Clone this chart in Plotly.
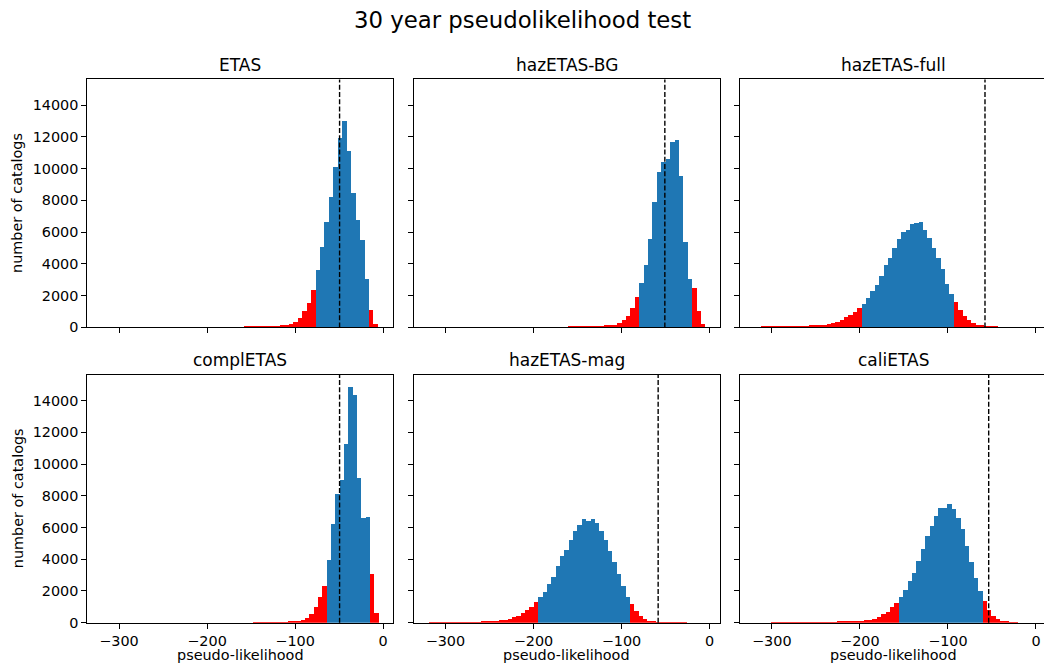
import plotly.graph_objects as go

# ---------------- data ----------------
models = ["ETAS", "hazETAS-BG", "hazETAS-full", "complETAS", "hazETAS-mag", "caliETAS"]

# left edge of first histogram bin, and bin width (pseudo-likelihood units)
first_edge = [-157.2, -160.6, -312.4, -147.5, -319.0, -300.6]
bin_width = [5.05, 5.02, 4.98, 4.92, 4.96, 5.00]

# 2.5% / 97.5% quantiles of the simulated distribution (red tails outside)
q_low = [-76.4, -80.3, -197.9, -63.9, -195.0, -155.6]
q_high = [-15.8, -20.1, -93.3, -14.7, -90.8, -60.6]

# observed pseudo-likelihood (dashed line)
observed = [-49.5, -50.8, -57.9, -49.5, -58.4, -53.7]

etas_counts = [30, 32, 35, 38, 40, 42, 45, 50, 63, 126, 210, 316, 589, 1010, 1516, 2316,
               3579, 5052, 6589, 8188, 10083, 11914, 12988, 11093, 8441, 6757, 5473, 3010,
               1074, 210]
hazbg_counts = [30, 32, 35, 38, 40, 42, 45, 50, 63, 105, 147, 274, 421, 716, 1221, 1873,
                2758, 3894, 5536, 7873, 9788, 10399, 10588, 11662, 11788, 9515, 5347, 3010,
                2463, 1031, 210]
hazfull_counts = [30, 32, 34, 36, 38, 40, 42, 45, 48, 52, 58, 65, 75, 105, 147, 189, 253, 337,
                  463, 610, 779, 968, 1221,
                  1474, 1852, 2252, 2673, 3200, 3873, 4336, 4968, 5536, 5957, 6105, 6483,
                  6568, 6610, 6105, 5599, 4968, 4336, 3642, 2694, 2084,
                  1558, 1053, 695, 421, 253, 147, 84, 50, 40, 32]
compl_counts = [30, 32, 35, 38, 40, 42, 45, 50, 60, 80, 116, 179, 326, 558, 1000, 1652, 2347,
                3968, 6262, 8094, 9020, 11251, 14851, 14346, 9104, 6599, 6683,
                3084, 642]
hazmag_counts = [30, 32, 34, 36, 38, 40, 42, 44, 46, 48, 52, 56, 62,
                 74, 95, 116, 158, 200, 263, 368, 453, 642, 810, 1021, 1337,
                 1652, 1968, 2452, 2915, 3610, 4221, 4599, 5252, 5820, 6199, 6578, 6410,
                 6578, 6326, 5820, 5252, 4536, 3842, 3105, 2347, 1652,
                 1210, 768, 453, 242, 137, 74, 55, 45, 40, 36, 33, 31, 30]
cali_counts = [30, 32, 33, 34, 35, 36, 37, 38, 39, 40, 42, 44, 46, 50, 55, 60, 66, 72, 80, 95,
               116, 158, 200, 263, 368, 558, 705, 979, 1274,
               1652, 2094, 2663, 3168, 3926, 4684, 5505, 6136, 6768, 7252, 7252, 7525, 7189,
               6641, 5905, 4873, 3863, 2852, 2031,
               1379, 831, 453, 263, 116, 60, 40, 30]
all_counts = [etas_counts, hazbg_counts, hazfull_counts, compl_counts, hazmag_counts, cali_counts]

x_ticks = [-300, -200, -100, 0]
x_ticktext = ["\u2212300", "\u2212200", "\u2212100", "0"]
y_ticks = [0, 2000, 4000, 6000, 8000, 10000, 12000, 14000]
y_ticktext = ["0", "2000", "4000", "6000", "8000", "10000", "12000", "14000"]

# ---------------- layout geometry ----------------
W, H = 1044, 670
VS = 0.986  # vertical scale applied to the rendered page


def fy(y_px):
    """target pixel row (from top) -> paper fraction"""
    return 1 - (y_px / VS) / H


col_px = [(87.3, 393.3), (413.7, 719.7), (740.1, 1044.0)]
row_px = [(79.3, 326.7), (374.0, 621.4)]
px_per_unit = 306.0 / 347.5
x_left = -336.0
y_max = 15623

BLUE = "#1f77b4"
RED = "#ff0000"
FONT = "DejaVu Sans"

fig = go.Figure()
annotations = []
shapes = []

for k, name in enumerate(models):
    r, c = divmod(k, 3)
    ax = "" if k == 0 else str(k + 1)
    xa, ya = "x" + ax, "y" + ax
    counts = all_counts[k]
    w = bin_width[k]
    centers = [first_edge[k] + w * (i + 0.5) for i in range(len(counts))]
    colors = [RED if (cx < q_low[k] or cx > q_high[k]) else BLUE for cx in centers]
    fig.add_trace(go.Bar(x=centers, y=counts, width=w, marker=dict(color=colors, line=dict(width=0)),
                         xaxis=xa, yaxis=ya, showlegend=False, hoverinfo="x+y"))

    x0p, x1p = col_px[c]
    y0p, y1p = row_px[r]
    xr = [x_left, x_left + (x1p - x0p) / px_per_unit]
    xdom = [x0p / W, min(x1p / W, 1.0)]
    ydom = [fy(y1p), fy(y0p)]
    axis_common = dict(showgrid=False, zeroline=False, ticks="outside", ticklen=5, tickwidth=1,
                       tickcolor="black", showline=True, linecolor="black", linewidth=1,
                       tickfont=dict(family=FONT, size=14.4, color="black"))
    fig.layout["xaxis" + ax] = dict(axis_common, domain=xdom, range=xr, anchor=ya,
                                    tickvals=x_ticks, ticktext=x_ticktext,
                                    showticklabels=(r == 1), mirror=True)
    fig.layout["yaxis" + ax] = dict(axis_common, domain=ydom, range=[0, y_max], anchor=xa,
                                    tickvals=y_ticks, ticktext=y_ticktext,
                                    showticklabels=(c == 0), mirror=(c != 2))
    # observed line
    shapes.append(dict(type="line", xref=xa, yref=ya + " domain", x0=observed[k], x1=observed[k],
                       y0=0, y1=1, line=dict(color="black", width=1.4, dash="5px,2.2px")))
    xc = (x0p + x0p + 306.0) / 2 / W
    # subplot title
    annotations.append(dict(text=name, x=xc, xref="paper",
                            y=fy(y0p - 14.8), yref="paper", xanchor="center",
                            yanchor="middle", showarrow=False,
                            font=dict(family=FONT, size=17, color="black")))
    if c == 0:
        annotations.append(dict(text="number of catalogs", x=17.5 / W, xref="paper",
                                y=fy((y0p + y1p) / 2), yref="paper", textangle=-90,
                                xanchor="center", yanchor="middle", showarrow=False,
                                font=dict(family=FONT, size=14.4, color="black")))
    if r == 1:
        annotations.append(dict(text="pseudo-likelihood", x=xc,
                                xref="paper", y=fy(653.5), yref="paper",
                                xanchor="center", yanchor="middle", showarrow=False,
                                font=dict(family=FONT, size=14.4, color="black")))

annotations.append(dict(text="30 year pseudolikelihood test", x=0.5, xref="paper",
                        y=fy(19.7), yref="paper", xanchor="center", yanchor="middle",
                        showarrow=False, font=dict(family=FONT, size=22.8, color="black")))

fig.update_layout(width=W, height=H, margin=dict(l=0, r=0, t=0, b=0),
                  paper_bgcolor="white", plot_bgcolor="white", bargap=0,
                  annotations=annotations, shapes=shapes,
                  font=dict(family=FONT, color="black"))

fig.write_html("out.html")
